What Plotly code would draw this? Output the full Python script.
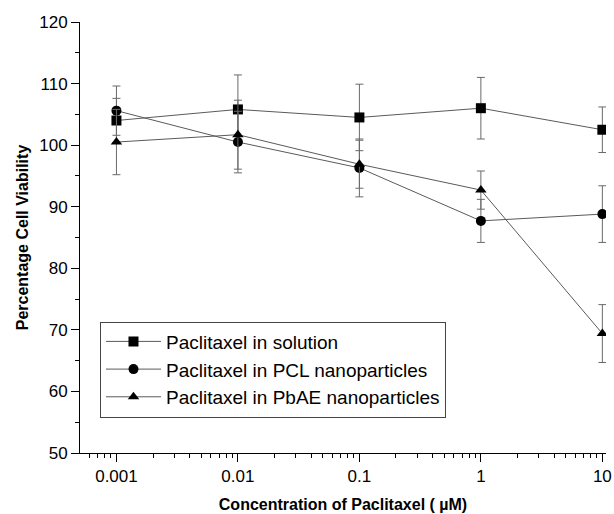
import plotly.graph_objects as go

conc = [0.001, 0.01, 0.1, 1, 10]
tick_labels = ["0.001", "0.01", "0.1", "1", "10"]

sol_y = [104.0, 105.8, 104.5, 106.0, 102.5]
sol_err = [3.6, 5.6, 5.4, 5.0, 3.7]
pcl_y = [105.6, 100.5, 96.3, 87.7, 88.8]
pcl_err = [4.0, 5.0, 4.7, 3.5, 4.6]
pbae_y = [100.5, 101.7, 96.9, 92.7, 69.4]
pbae_err = [5.3, 5.6, 3.9, 3.1, 4.7]

names = ["Paclitaxel in solution", "Paclitaxel in PCL nanoparticles", "Paclitaxel in PbAE nanoparticles"]
symbols = ["square", "circle", "triangle-up"]
ys = [sol_y, pcl_y, pbae_y]
errs = [sol_err, pcl_err, pbae_err]

font = "Arial, Liberation Sans, sans-serif"
fig = go.Figure()
for name, sym, y, e in zip(names, symbols, ys, errs):
    fig.add_trace(go.Scatter(
        x=conc, y=y, name=name, mode="lines+markers",
        line=dict(color="#5a5a5a", width=1),
        marker=dict(symbol=sym, size=10, color="black"),
        error_y=dict(type="data", array=e, visible=True, color="#6a6a6a", thickness=1, width=4),
    ))

fig.update_layout(
    width=614, height=514,
    margin=dict(l=80, r=8, t=22, b=61),
    paper_bgcolor="white", plot_bgcolor="white",
    font=dict(family=font, size=17, color="black"),
    showlegend=True,
    legend=dict(x=0.038, y=0.305, xanchor="left", yanchor="top",
                bordercolor="#444444", borderwidth=1, bgcolor="white",
                font=dict(size=19, family=font), tracegroupgap=0,
                itemwidth=55),
)
fig.update_xaxes(
    type="log", range=[-3.3, 1.03], automargin=False,
    tickvals=conc, ticktext=tick_labels,
    showline=True, linecolor="black", linewidth=1,
    ticks="outside", ticklen=8, tickcolor="black",
    minor=dict(ticks="outside", ticklen=4, tickcolor="black", dtick="D1"),
    showgrid=False, zeroline=False,
    tickfont=dict(size=17),
    title=dict(text="Concentration of Paclitaxel ( µM)", font=dict(size=16, weight="bold"), standoff=13),
)
fig.update_yaxes(
    range=[50, 120], dtick=10, automargin=False,
    showline=True, linecolor="black", linewidth=1,
    ticks="outside", ticklen=8, tickcolor="black",
    minor=dict(ticks="outside", ticklen=4, tickcolor="black", dtick=5),
    showgrid=False, zeroline=False,
    tickfont=dict(size=17),
    title=dict(text="Percentage Cell Viability", font=dict(size=16, weight="bold"), standoff=6),
)
fig.write_html("out.html")
